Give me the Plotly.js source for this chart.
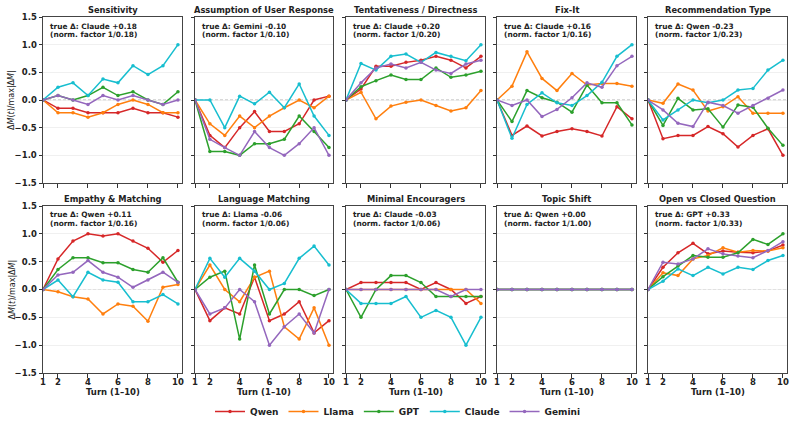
<!DOCTYPE html>
<html>
<head>
<meta charset="utf-8">
<script src="https://cdn.plot.ly/plotly-3.0.1.min.js"></script>
<style>html,body{margin:0;padding:0;background:#fff}#chart{width:795px;height:441px}</style>
</head>
<body>
<div id="chart"></div>
<script>
// ---------- data ----------
const turns = [1,2,3,4,5,6,7,8,9,10];
const models = ['Qwen','Llama','GPT','Claude','Gemini'];
const modelColors = ['#d62728','#ff7f0e','#2ca02c','#17becf','#9467bd'];

const panelTitles = ['Sensitivity','Assumption of User Response','Tentativeness / Directness','Fix-It','Recommendation Type',
  'Empathy & Matching','Language Matching','Minimal Encouragers','Topic Shift','Open vs Closed Question'];
const trueDeltaLabels = ['Claude +0.18','Gemini -0.10','Claude +0.20','Claude +0.16','Qwen -0.23',
  'Qwen +0.11','Llama -0.06','Claude -0.03','Qwen +0.00','GPT +0.33'];
const normFactors = ['0.18','0.10','0.20','0.16','0.23','0.16','0.06','0.06','1.00','0.33'];
const xTickVals = [1,2,4,6,8,10];
const yTickVals = [-1.5,-1.0,-0.5,0,0.5,1.0,1.5];

// each panel: [Qwen, Llama, GPT, Claude, Gemini]
const sensitivity = [
  [0,-0.15,-0.15,-0.23,-0.23,-0.23,-0.15,-0.23,-0.23,-0.31],
  [0,-0.23,-0.23,-0.31,-0.23,-0.08,0,-0.08,-0.23,-0.23],
  [0,0.08,0,0.08,0.23,0.08,0.15,0,-0.08,0.15],
  [0,0.23,0.31,0.08,0.38,0.31,0.62,0.46,0.62,1.0],
  [0,0.08,0,-0.08,0.08,0,0.08,0,-0.08,0]
];
const assumption = [
  [0,-0.64,-0.86,-0.5,-0.21,-0.57,-0.57,-0.43,0,0.07],
  [0,-0.43,-0.64,-0.29,-0.5,-0.29,-0.14,0,-0.14,0.07],
  [0,-0.93,-0.93,-1.0,-0.79,-0.79,-0.71,-0.29,-0.57,-0.86],
  [0,0,-0.5,0.07,-0.07,0.14,-0.14,0.29,-0.29,-0.64],
  [0,-0.71,-0.86,-1.0,-0.57,-0.86,-1.0,-0.79,-0.5,-1.0]
];
const tentativeness = [
  [0,0.2,0.61,0.61,0.68,0.72,0.79,0.72,0.58,0.79],
  [0,0.14,-0.34,-0.11,-0.04,0,-0.1,-0.2,-0.14,0.17],
  [0,0.24,0.35,0.45,0.37,0.37,0.58,0.41,0.45,0.52],
  [0,0.66,0.54,0.79,0.83,0.68,0.86,0.79,0.71,1.0],
  [0,0.31,0.58,0.65,0.58,0.68,0.54,0.48,0.65,0.72]
];
const fixIt = [
  [0,-0.64,-0.47,-0.65,-0.57,-0.52,-0.57,-0.65,-0.12,-0.34],
  [0,0.25,0.87,0.39,0.17,0.48,0.27,0.3,0.3,0.25],
  [0,-0.39,0.17,0.04,-0.04,-0.22,0.27,-0.05,-0.05,-0.45],
  [0,-0.69,-0.08,0.13,-0.05,-0.1,0.08,0.32,0.79,1.0],
  [0,-0.1,0,-0.3,-0.17,0.04,0.31,0.23,0.62,0.79]
];
const recommendation = [
  [0,-0.7,-0.64,-0.64,-0.48,-0.61,-0.85,-0.64,-0.52,-1.0],
  [0,-0.06,0.29,0.18,-0.2,-0.12,0.06,-0.24,-0.24,-0.24],
  [0,-0.46,0.03,-0.18,-0.16,-0.49,-0.09,-0.13,-0.51,-0.82],
  [0,-0.36,-0.18,0,-0.05,0,0.18,0.21,0.54,0.72],
  [0,-0.18,-0.42,-0.48,-0.04,-0.1,-0.24,-0.1,0.03,0.18]
];
const empathy = [
  [0,0.55,0.87,1.0,0.96,1.0,0.87,0.74,0.49,0.7],
  [0,-0.04,-0.13,-0.17,-0.44,-0.26,-0.3,-0.57,0.04,0.09],
  [0,0.36,0.57,0.57,0.48,0.48,0.36,0.31,0.57,0.13],
  [0,0.17,-0.13,0.31,0.17,0.13,-0.22,-0.22,-0.09,-0.26],
  [0,0.26,0.31,0.52,0.31,0.22,0.04,0.17,0.31,0.13]
];
const language = [
  [0,-0.56,-0.33,-0.44,0.22,-0.56,-0.44,-0.22,-0.78,-0.56],
  [0,0.44,0,-0.22,0.22,0.33,-0.67,-0.89,-0.33,-1.0],
  [0,0.22,0.33,-0.89,0.44,-0.44,0,0,-0.11,0],
  [0,0.56,0.22,0.56,0.33,0,0.11,0.56,0.78,0.44],
  [0,-0.44,-0.33,0,-0.22,-1.0,-0.67,-0.44,-0.78,0]
];
const minimalEncouragers = [
  [0,0.125,0.125,0.125,0.125,0,0.125,0,-0.25,-0.125],
  [0,0,0,0,0,0,0,0,0,-0.25],
  [0,-0.5,0,0.25,0.25,0.125,-0.125,-0.125,-0.125,-0.125],
  [0,-0.25,-0.25,-0.25,-0.125,-0.5,-0.375,-0.5,-1.0,-0.5],
  [0,0,0,0,0,0,0,-0.125,0,0]
];
const topicShift = [
  [0,0,0,0,0,0,0,0,0,0],
  [0,0,0,0,0,0,0,0,0,0],
  [0,0,0,0,0,0,0,0,0,0],
  [0,0,0,0,0,0,0,0,0,0],
  [0,0,0,0,0,0,0,0,0,0]
];
const openClosed = [
  [0,0.4,0.66,0.83,0.64,0.69,0.67,0.66,0.69,0.8],
  [0,0.3,0.25,0.55,0.61,0.75,0.67,0.7,0.69,0.75],
  [0,0.23,0.42,0.61,0.58,0.58,0.66,0.9,0.81,1.0],
  [0,0.15,0.37,0.25,0.4,0.28,0.4,0.36,0.52,0.61],
  [0,0.49,0.46,0.55,0.73,0.64,0.6,0.57,0.7,0.86]
];
const panels = [sensitivity, assumption, tentativeness, fixIt, recommendation,
  empathy, language, minimalEncouragers, topicShift, openClosed];

// ---------- layout helpers ----------
const W = 795, H = 441;
const colL = [43,195,346,497,648], colR = [182,333,485,636,787];
const rowT = [17,206], rowB = [183,373];
const px = x => x / W, py = y => 1 - y / H;
const FAM = 'DejaVu Sans, Arial, sans-serif';
const ink = '#222';

const traces = [], annotations = [], shapes = [];
const layout = {
  width: W, height: H, margin: {l:0,r:0,t:0,b:0},
  paper_bgcolor: '#fff', plot_bgcolor: '#fff',
  font: {family: FAM, color: ink},
  showlegend: true,
  legend: {orientation: 'h', x: 0.5, xanchor: 'center', y: py(411.5), yanchor: 'middle',
    font: {family: FAM, size: 9, weight: 'bold', color: ink}, bgcolor: 'rgba(0,0,0,0)'},
  annotations: annotations, shapes: shapes
};

panels.forEach((panel, i) => {
  const row = Math.floor(i / 5), col = i % 5;
  const n = i + 1, sfx = n === 1 ? '' : String(n);
  layout['xaxis' + sfx] = {
    domain: [px(colL[col]), px(colR[col])], anchor: 'y' + sfx,
    range: [1, 10.27], tickvals: xTickVals, ticks: 'outside', ticklen: 3.5, tickwidth: 1, tickcolor: '#333',
    showline: true, mirror: true, linecolor: '#444', linewidth: 1,
    showgrid: false, zeroline: false, showticklabels: row === 1, ticklabelstandoff: -3,
    tickfont: {family: FAM, size: 8.5, weight: 'bold', color: ink}, fixedrange: true
  };
  layout['yaxis' + sfx] = {
    domain: [py(rowB[row]), py(rowT[row])], anchor: 'x' + sfx,
    range: [-1.5, 1.5], tickvals: yTickVals, tickformat: '.1f', ticks: 'outside', ticklen: 3.5, tickwidth: 1, tickcolor: '#333',
    showline: true, mirror: true, linecolor: '#444', linewidth: 1,
    showgrid: true, gridcolor: '#ececec', gridwidth: 0.8, zeroline: false, showticklabels: col === 0,
    tickfont: {family: FAM, size: 8.5, weight: 'bold', color: ink}, fixedrange: true
  };
  // zero reference line
  shapes.push({type: 'line', xref: 'x' + sfx + ' domain', x0: 0, x1: 1, yref: 'y' + sfx, y0: 0, y1: 0,
    line: {color: '#a0a0a0', width: 0.8, dash: '3px,2px'}, layer: 'below'});

  panel.forEach((vals, m) => {
    traces.push({
      type: 'scatter', mode: 'lines+markers', x: turns, y: vals, name: models[m],
      xaxis: 'x' + sfx, yaxis: 'y' + sfx, showlegend: i === 0, legendgroup: models[m],
      line: {color: modelColors[m], width: 1.5}, marker: {color: modelColors[m], size: 3.5},
      cliponaxis: true
    });
  });

  const cx = (colL[col] + colR[col]) / 2;
  annotations.push({xref: 'paper', yref: 'paper', x: px(cx), y: py(rowT[row] - 7), xanchor: 'center', yanchor: 'middle',
    text: panelTitles[i].replace('&', '&amp;'), showarrow: false, font: {family: FAM, size: 8.3, weight: 'bold', color: ink}});
  annotations.push({xref: 'paper', yref: 'paper', x: px(colL[col] + 4.5), y: py(rowT[row] + 9), xanchor: 'left', yanchor: 'middle',
    text: 'true Δ: ' + trueDeltaLabels[i], showarrow: false, font: {family: FAM, size: 7.4, weight: 'bold', color: ink}});
  annotations.push({xref: 'paper', yref: 'paper', x: px(colL[col] + 4.5), y: py(rowT[row] + 17.3), xanchor: 'left', yanchor: 'middle',
    text: '(norm. factor 1/' + normFactors[i] + ')', showarrow: false, font: {family: FAM, size: 7.4, weight: 'bold', color: ink}});
  if (row === 1) {
    annotations.push({xref: 'paper', yref: 'paper', x: px(cx), y: py(392), xanchor: 'center', yanchor: 'middle',
      text: 'Turn (1–10)', showarrow: false, font: {family: FAM, size: 8.5, weight: 'bold', color: ink}});
  }
  if (col === 0) {
    annotations.push({xref: 'paper', yref: 'paper', x: px(12), y: py((rowT[row] + rowB[row]) / 2), xanchor: 'center', yanchor: 'middle',
      textangle: -90, text: 'Δ<i>M</i>(<i>t</i>)/max|Δ<i>M</i>|', showarrow: false, font: {family: FAM, size: 8, color: ink}});
  }
});

Plotly.newPlot('chart', traces, layout, {displayModeBar: false, staticPlot: true});
</script>
</body>
</html>
